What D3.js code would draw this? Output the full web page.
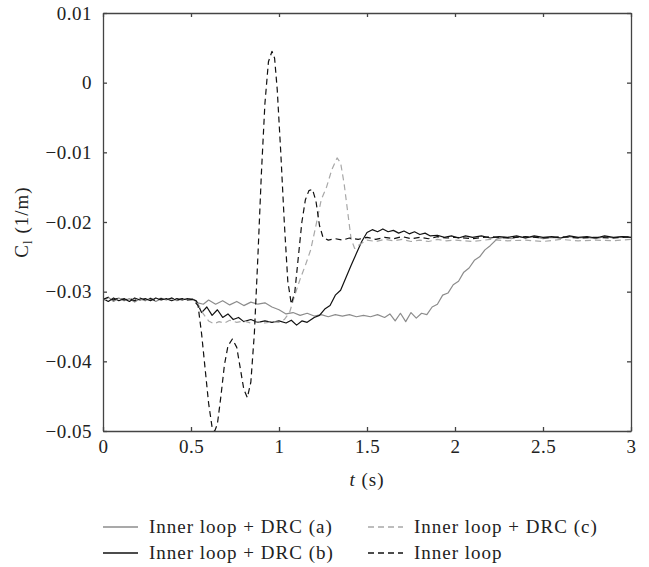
<!DOCTYPE html>
<html>
<head>
<meta charset="utf-8">
<script src="https://cdn.jsdelivr.net/npm/d3@7"></script>
<style>
  body { margin: 0; background: #fff; }
  text { font-family: "Liberation Serif", "Times New Roman", serif; fill: #222; }
</style>
</head>
<body>
<div id="chart"></div>
<script>
// tick values
var xTicks = [0, 0.5, 1, 1.5, 2, 2.5, 3];
var yTicks = [0.01, 0, -0.01, -0.02, -0.03, -0.04, -0.05];

// Inner loop + DRC (a)  -- gray solid
var drcA = [
    [0, -0.0312], [0.03, -0.0308], [0.06, -0.0314], [0.09, -0.0309], [0.12, -0.0313], [0.15, -0.0310],
    [0.18, -0.0315], [0.21, -0.0310], [0.24, -0.0313], [0.27, -0.0309], [0.30, -0.0314], [0.33, -0.0310],
    [0.36, -0.0312], [0.39, -0.0309], [0.42, -0.0313], [0.45, -0.0310], [0.48, -0.0312], [0.51, -0.0311],
    [0.54, -0.0316], [0.57, -0.0318], [0.60, -0.0312], [0.64, -0.0318], [0.68, -0.0313], [0.72, -0.0319],
    [0.76, -0.0314], [0.80, -0.0320], [0.84, -0.0315], [0.88, -0.0318], [0.92, -0.0316], [0.96, -0.0322],
    [1.00, -0.0326], [1.04, -0.0332], [1.08, -0.0330], [1.12, -0.0334], [1.16, -0.0331], [1.20, -0.0335],
    [1.24, -0.0333], [1.28, -0.0336], [1.32, -0.0333], [1.36, -0.0335], [1.40, -0.0333], [1.44, -0.0336],
    [1.48, -0.0334], [1.52, -0.0336], [1.56, -0.0333], [1.60, -0.0337], [1.63, -0.0332], [1.66, -0.0342],
    [1.69, -0.0331], [1.72, -0.0343], [1.75, -0.0330], [1.78, -0.0338], [1.81, -0.0331], [1.84, -0.0333],
    [1.87, -0.0322], [1.90, -0.0318], [1.93, -0.0305], [1.96, -0.0302], [1.99, -0.0290], [2.02, -0.0285],
    [2.05, -0.0272], [2.08, -0.0266], [2.11, -0.0255], [2.14, -0.0250], [2.17, -0.0240], [2.20, -0.0234],
    [2.24, -0.0224], [2.28, -0.0222], [2.32, -0.0224], [2.36, -0.0221], [2.40, -0.0223], [2.45, -0.0221],
    [2.50, -0.0224], [2.55, -0.0222], [2.60, -0.0223], [2.65, -0.0221], [2.70, -0.0223], [2.75, -0.0222],
    [2.80, -0.0224], [2.85, -0.0221], [2.90, -0.0223], [2.95, -0.0221], [3.00, -0.0222]
];

// Inner loop + DRC (b)  -- black solid
var drcB = [
    [0, -0.0310], [0.03, -0.0314], [0.06, -0.0309], [0.09, -0.0313], [0.12, -0.0310], [0.15, -0.0314],
    [0.18, -0.0309], [0.21, -0.0312], [0.24, -0.0310], [0.27, -0.0313], [0.30, -0.0309], [0.33, -0.0312],
    [0.36, -0.0310], [0.39, -0.0313], [0.42, -0.0310], [0.45, -0.0312], [0.48, -0.0310], [0.51, -0.0311],
    [0.53, -0.0313], [0.56, -0.0330], [0.59, -0.0322], [0.62, -0.0334], [0.65, -0.0326], [0.68, -0.0337],
    [0.71, -0.0332], [0.74, -0.0340], [0.77, -0.0337], [0.80, -0.0343], [0.84, -0.0340], [0.88, -0.0344],
    [0.92, -0.0342], [0.96, -0.0344], [1.00, -0.0342], [1.04, -0.0345], [1.07, -0.0341], [1.10, -0.0348],
    [1.13, -0.0342], [1.16, -0.0344], [1.20, -0.0337], [1.23, -0.0334], [1.26, -0.0325], [1.29, -0.0320],
    [1.32, -0.0305], [1.35, -0.0298], [1.38, -0.0280], [1.41, -0.0262], [1.44, -0.0245], [1.47, -0.0228],
    [1.50, -0.0215], [1.53, -0.0211], [1.56, -0.0214], [1.59, -0.0210], [1.62, -0.0214], [1.65, -0.0212],
    [1.68, -0.0216], [1.71, -0.0213], [1.74, -0.0217], [1.77, -0.0214], [1.80, -0.0218], [1.83, -0.0216],
    [1.86, -0.0220], [1.90, -0.0219], [1.94, -0.0222], [1.98, -0.0220], [2.02, -0.0223], [2.06, -0.0220],
    [2.10, -0.0222], [2.15, -0.0220], [2.20, -0.0223], [2.25, -0.0221], [2.30, -0.0222], [2.35, -0.0220],
    [2.40, -0.0223], [2.45, -0.0220], [2.50, -0.0222], [2.55, -0.0221], [2.60, -0.0223], [2.65, -0.0220],
    [2.70, -0.0222], [2.75, -0.0221], [2.80, -0.0223], [2.85, -0.0220], [2.90, -0.0222], [2.95, -0.0221],
    [3.00, -0.0222]
];

// Inner loop + DRC (c)  -- gray dashed
var drcC = [
    [0, -0.0313], [0.03, -0.0309], [0.06, -0.0312], [0.09, -0.0310], [0.12, -0.0313], [0.15, -0.0309],
    [0.18, -0.0312], [0.21, -0.0310], [0.24, -0.0313], [0.27, -0.0310], [0.30, -0.0312], [0.33, -0.0309],
    [0.36, -0.0312], [0.39, -0.0310], [0.42, -0.0312], [0.45, -0.0310], [0.48, -0.0311], [0.51, -0.0312],
    [0.54, -0.0318], [0.57, -0.0332], [0.60, -0.0342], [0.63, -0.0346], [0.66, -0.0343], [0.69, -0.0345],
    [0.72, -0.0341], [0.76, -0.0344], [0.80, -0.0342], [0.84, -0.0345], [0.88, -0.0343], [0.92, -0.0345],
    [0.96, -0.0343], [1.00, -0.0344], [1.03, -0.0340], [1.06, -0.0330], [1.09, -0.0305], [1.12, -0.0282],
    [1.15, -0.0262], [1.18, -0.0240], [1.21, -0.0205], [1.24, -0.0168], [1.27, -0.0150], [1.30, -0.0125],
    [1.33, -0.0108], [1.35, -0.0115], [1.37, -0.0145], [1.39, -0.0185], [1.41, -0.0225], [1.43, -0.0238],
    [1.46, -0.0232], [1.50, -0.0226], [1.55, -0.0228], [1.60, -0.0225], [1.65, -0.0227], [1.70, -0.0225],
    [1.75, -0.0228], [1.80, -0.0226], [1.85, -0.0228], [1.90, -0.0225], [1.95, -0.0227], [2.00, -0.0226],
    [2.10, -0.0228], [2.20, -0.0225], [2.30, -0.0227], [2.40, -0.0226], [2.50, -0.0228], [2.60, -0.0225],
    [2.70, -0.0227], [2.80, -0.0226], [2.90, -0.0227], [3.00, -0.0225]
];

// Inner loop  -- black dashed
var innerLoop = [
    [0, -0.0311], [0.03, -0.0308], [0.06, -0.0312], [0.09, -0.0309], [0.12, -0.0312], [0.15, -0.0310],
    [0.18, -0.0313], [0.21, -0.0309], [0.24, -0.0312], [0.27, -0.0310], [0.30, -0.0313], [0.33, -0.0310],
    [0.36, -0.0312], [0.39, -0.0309], [0.42, -0.0312], [0.45, -0.0310], [0.48, -0.0312], [0.51, -0.0311],
    [0.54, -0.0320], [0.56, -0.0360], [0.58, -0.0410], [0.60, -0.0460], [0.62, -0.0495], [0.635, -0.0500],
    [0.65, -0.0490], [0.67, -0.0450], [0.69, -0.0405], [0.71, -0.0378], [0.735, -0.0368], [0.76, -0.0380],
    [0.78, -0.0410], [0.80, -0.0440], [0.82, -0.0452], [0.84, -0.0430], [0.86, -0.0360], [0.88, -0.0250],
    [0.90, -0.0130], [0.92, -0.0030], [0.94, 0.0030], [0.96, 0.0045], [0.975, 0.0035], [0.99, -0.0010],
    [1.01, -0.0100], [1.03, -0.0200], [1.05, -0.0285], [1.07, -0.0318], [1.09, -0.0300], [1.11, -0.0250],
    [1.13, -0.0200], [1.15, -0.0168], [1.17, -0.0155], [1.19, -0.0153], [1.21, -0.0170], [1.23, -0.0205],
    [1.25, -0.0222], [1.28, -0.0226], [1.32, -0.0224], [1.36, -0.0226], [1.40, -0.0223], [1.45, -0.0225],
    [1.50, -0.0222], [1.55, -0.0225], [1.60, -0.0222], [1.65, -0.0224], [1.70, -0.0221], [1.75, -0.0224],
    [1.80, -0.0222], [1.85, -0.0224], [1.90, -0.0221], [1.95, -0.0223], [2.00, -0.0222], [2.10, -0.0224],
    [2.20, -0.0221], [2.30, -0.0223], [2.40, -0.0221], [2.50, -0.0223], [2.60, -0.0221], [2.70, -0.0223],
    [2.80, -0.0222], [2.90, -0.0223], [3.00, -0.0221]
];

var seriesNames = ["Inner loop + DRC (a)", "Inner loop + DRC (b)", "Inner loop + DRC (c)", "Inner loop"];

// set the dimensions and margins of the graph
var margin = { top: 13, right: 18, bottom: 136, left: 103 },
    width = 631 - margin.left,
    height = 431 - margin.top;

var svg = d3.select("#chart")
    .append("svg")
    .attr("width", 649)
    .attr("height", 567)
    .append("g")
    .attr("transform", "translate(" + margin.left + "," + margin.top + ")");

var x = d3.scaleLinear().domain([0, 3]).range([0, width]);
var y = d3.scaleLinear().domain([-0.05, 0.01]).range([height, 0]);

var styles = [
    { color: "#8c8c8c", dash: null },
    { color: "#111", dash: null },
    { color: "#a8a8a8", dash: "6,4" },
    { color: "#111", dash: "6,4" }
];

var line = d3.line()
    .x(function (d) { return x(d[0]); })
    .y(function (d) { return y(d[1]); });

// clip so nothing leaks out of the box
svg.append("clipPath").attr("id", "clip")
    .append("rect").attr("width", width).attr("height", height);

[drcA, drcB, drcC, innerLoop].forEach(function (data, i) {
    svg.append("path")
        .datum(data)
        .attr("clip-path", "url(#clip)")
        .attr("fill", "none")
        .attr("stroke", styles[i].color)
        .attr("stroke-width", 1.2)
        .attr("stroke-dasharray", styles[i].dash)
        .attr("stroke-linejoin", "round")
        .attr("d", line);
});

var fmtY = function (d) { return Math.abs(d) < 1e-9 ? "0" : d3.format(".2f")(d); };

// axes, ticks pointing inward
var gx = svg.append("g")
    .attr("transform", "translate(0," + height + ")")
    .call(d3.axisBottom(x).tickValues(xTicks).tickFormat(d3.format("")).tickSize(-4).tickSizeOuter(0).tickPadding(9));
var gy = svg.append("g")
    .call(d3.axisLeft(y).tickValues(yTicks).tickFormat(fmtY).tickSize(-4).tickSizeOuter(0).tickPadding(11));
var gt = svg.append("g")
    .call(d3.axisTop(x).tickValues(xTicks).tickFormat("").tickSize(-4).tickSizeOuter(0));
var gr = svg.append("g")
    .attr("transform", "translate(" + width + ",0)")
    .call(d3.axisRight(y).tickValues(yTicks).tickFormat("").tickSize(-4).tickSizeOuter(0));

[gx, gy, gt, gr].forEach(function (g) {
    g.selectAll("path, line").attr("stroke", "#444").attr("stroke-width", 1.3);
    g.selectAll("text")
        .style("font-family", "'Liberation Serif', serif")
        .style("font-size", "19px")
        .style("letter-spacing", "0.5px")
        .attr("fill", "#222");
});

// x label
var xl = svg.append("text")
    .attr("x", width / 2)
    .attr("y", height + 55)
    .attr("text-anchor", "middle")
    .style("font-size", "19px")
    .style("letter-spacing", "1px");
xl.append("tspan").style("font-style", "italic").text("t");
xl.append("tspan").text(" (s)");

// y label
var yl = svg.append("text")
    .attr("transform", "translate(" + (28 - margin.left) + "," + (height / 2) + ") rotate(-90)")
    .attr("text-anchor", "middle")
    .style("font-size", "19px")
    .style("letter-spacing", "1px");
yl.append("tspan").text("C");
yl.append("tspan").attr("dy", 4).style("font-size", "13px").text("l");
yl.append("tspan").attr("dy", -4).text(" (1/m)");

// legend
var legendPos = [
    { x: 0, y: 527 },
    { x: 0, y: 553 },
    { x: 265, y: 527 },
    { x: 265, y: 553 }
];
var legend = svg.append("g").attr("transform", "translate(0," + (-margin.top) + ")");
seriesNames.forEach(function (name, i) {
    var p = legendPos[i];
    legend.append("line")
        .attr("x1", p.x).attr("x2", p.x + 35)
        .attr("y1", p.y).attr("y2", p.y)
        .attr("stroke", styles[i].color)
        .attr("stroke-width", 1.3)
        .attr("stroke-dasharray", styles[i].dash);
    legend.append("text")
        .attr("x", p.x + 46)
        .attr("y", p.y + 6)
        .style("font-size", "19px")
        .style("letter-spacing", "1px")
        .text(name);
});
</script>
</body>
</html>
